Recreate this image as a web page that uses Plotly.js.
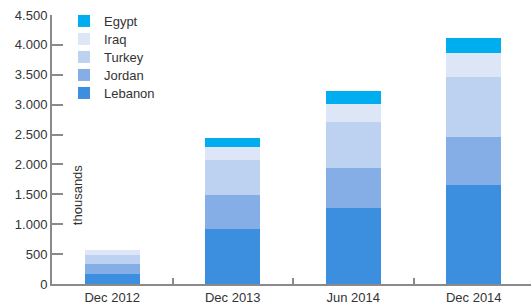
<!DOCTYPE html>
<html>
<head>
<meta charset="utf-8">
<script src="https://cdn.plot.ly/plotly-3.0.1.min.js"></script>
<style>html,body{margin:0;padding:0;background:#fff;}#chart{width:531px;height:307px;}</style>
</head>
<body>
<div id="chart"></div>
<script>
const categories = ["Dec 2012", "Dec 2013", "Jun 2014", "Dec 2014"];
const lebanon = [160, 920, 1270, 1655];
const jordan  = [167, 568, 670, 803];
const turkey  = [150, 585, 769, 1003];
const iraq    = [84, 217, 301, 401];
const egypt   = [0, 150, 217, 251];

const seriesNames = ["Lebanon", "Jordan", "Turkey", "Iraq", "Egypt"];
const seriesValues = [lebanon, jordan, turkey, iraq, egypt];
const seriesColors = ["#3c8ede", "#86aee6", "#bdd1f0", "#dde6f7", "#00aeef"];
const legendIds = ["legend5", "legend4", "legend3", "legend2", "legend"];

const traces = seriesNames.map((n, i) => ({
  type: "bar",
  name: n,
  x: categories,
  y: seriesValues[i],
  legend: legendIds[i],
  marker: {color: seriesColors[i], line: {width: 0}},
  width: 0.456,
  hoverinfo: "skip"
}));

const font = {family: "Liberation Sans, Arial, Helvetica, sans-serif", size: 13, color: "#333"};

const layout = {
  width: 531, height: 307,
  margin: {l: 52, r: 0, t: 15, b: 23, pad: 0},
  barmode: "stack",
  separators: ",.",
  paper_bgcolor: "#fff", plot_bgcolor: "#fff",
  font: font,
  showlegend: true,
  xaxis: {
    type: "category",
    range: [-0.5, 3.475],
    showline: true, linecolor: "#8a8a8a", linewidth: 2,
    ticks: "inside", tickson: "boundaries", ticklen: 6, tickwidth: 2, tickcolor: "#8a8a8a",
    showgrid: false, zeroline: false,
    tickfont: font, fixedrange: true
  },
  yaxis: {
    range: [0, 4500],
    tickvals: [0, 500, 1000, 1500, 2000, 2500, 3000, 3500, 4000, 4500],
    separatethousands: true,
    showline: true, linecolor: "#8a8a8a", linewidth: 2,
    ticks: "inside", ticklen: 11, tickwidth: 2, tickcolor: "#8a8a8a",
    showgrid: false, zeroline: false,
    tickfont: font, fixedrange: true
  },
  annotations: [{
    text: "thousands", textangle: -90,
    xref: "paper", yref: "paper",
    x: 0.052, y: 0.33, xanchor: "center", yanchor: "middle",
    showarrow: false, font: font
  }]
};

const legendY = [0.9777, 0.9108, 0.8439, 0.7770, 0.7100];
["legend", "legend2", "legend3", "legend4", "legend5"].forEach((id, k) => {
  layout[id] = {
    x: 0.025, y: legendY[k], xanchor: "left", yanchor: "middle",
    font: font, bgcolor: "rgba(0,0,0,0)", borderwidth: 0
  };
});

Plotly.newPlot("chart", traces, layout, {displayModeBar: false, staticPlot: true});
</script>
</body>
</html>
